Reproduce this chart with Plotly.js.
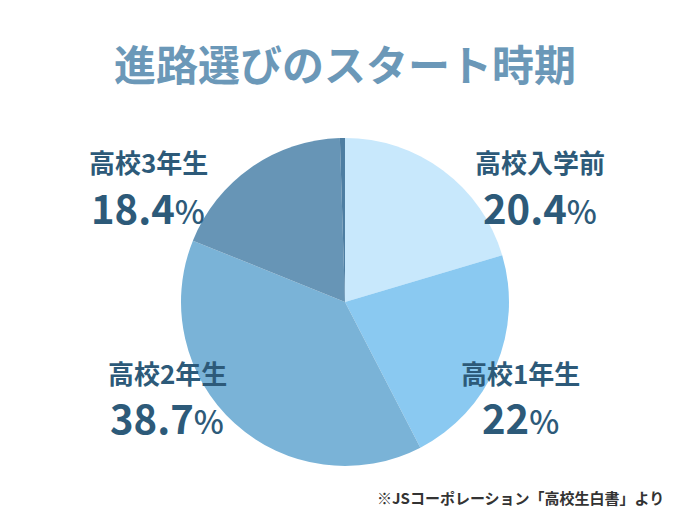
<!DOCTYPE html>
<html>
<head>
<meta charset="utf-8">
<script src="https://cdn.plot.ly/plotly-3.0.1.min.js"></script>
<style>html,body{margin:0;padding:0;background:#fff;}#chart{width:690px;height:526px;}</style>
</head>
<body>
<div id="chart"></div>
<script>
const categories = ['高校入学前', '高校1年生', '高校2年生', '高校3年生', 'その他'];
const values = [20.4, 22, 38.7, 18.4, 0.5];
const valueLabels = ['20.4', '22', '38.7', '18.4', ''];
const colors = ['#c8e8fc', '#8ac9f1', '#7ab3d7', '#6795b6', '#4e7ea2'];
// label positions in pixels (center of name, center of percent)
const labelPos = [
  {x: 540, yName: 161, yPct: 207},
  {x: 520, yName: 372, yPct: 417},
  {x: 167, yName: 372, yPct: 417},
  {x: 148, yName: 161, yPct: 207}
];
const W = 690, H = 526;
const px = x => x / W, py = y => 1 - y / H;
const labelColor = '#2d5a79';
const font = '"Noto Sans CJK JP", "Noto Sans", sans-serif';

const annotations = [];
labelPos.forEach((p, i) => {
  annotations.push({
    xref: 'paper', yref: 'paper', x: px(p.x), y: py(p.yName),
    xanchor: 'center', yanchor: 'middle', showarrow: false,
    text: '<b>' + categories[i] + '</b>',
    font: {family: font, size: 26, color: labelColor}
  });
  annotations.push({
    xref: 'paper', yref: 'paper', x: px(p.x), y: py(p.yPct),
    xanchor: 'center', yanchor: 'middle', showarrow: false,
    text: '<b>' + valueLabels[i] + '</b><span style="font-size:32px;font-weight:500">%</span>',
    font: {family: font, size: 40, color: labelColor}
  });
});
annotations.push({
  xref: 'paper', yref: 'paper', x: px(666), y: py(497),
  xanchor: 'right', yanchor: 'middle', showarrow: false,
  text: '<b>※JSコーポレーション「高校生白書」より</b>',
  font: {family: font, size: 15, color: '#333333'}
});

const cx = 345, cy = 302, r = 164;
const data = [{
  type: 'pie',
  labels: categories,
  values: values,
  sort: false,
  direction: 'clockwise',
  rotation: 0,
  textinfo: 'none',
  hoverinfo: 'label+percent',
  marker: {colors: colors, line: {width: 0}},
  domain: {x: [px(cx - r), px(cx + r)], y: [py(cy + r), py(cy - r)]},
  showlegend: false
}];

const layout = {
  width: W, height: H,
  margin: {l: 0, r: 0, t: 0, b: 0},
  paper_bgcolor: '#ffffff',
  showlegend: false,
  title: {
    text: '<b>進路選びのスタート時期</b>',
    x: 0.5, xanchor: 'center', xref: 'paper',
    y: py(66), yanchor: 'middle', yref: 'container',
    font: {family: font, size: 42, color: '#6b98b8'}
  },
  annotations: annotations
};

Plotly.newPlot('chart', data, layout, {displayModeBar: false, staticPlot: true});
</script>
</body>
</html>
